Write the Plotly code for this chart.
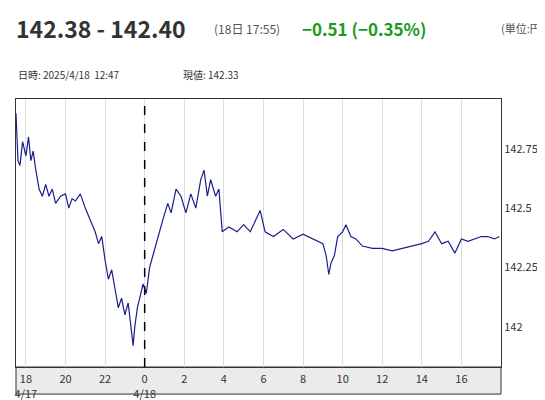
import plotly.graph_objects as go

times = ["2025-04-17 17:30","2025-04-17 17:36","2025-04-17 17:42","2025-04-17 17:50","2025-04-17 18:00","2025-04-17 18:08","2025-04-17 18:15","2025-04-17 18:22","2025-04-17 18:30","2025-04-17 18:40","2025-04-17 18:50","2025-04-17 19:00","2025-04-17 19:10","2025-04-17 19:20","2025-04-17 19:30","2025-04-17 19:45","2025-04-17 20:00","2025-04-17 20:10","2025-04-17 20:20","2025-04-17 20:30","2025-04-17 20:45","2025-04-17 21:00","2025-04-17 21:15","2025-04-17 21:30","2025-04-17 21:40","2025-04-17 21:50","2025-04-17 22:00","2025-04-17 22:10","2025-04-17 22:20","2025-04-17 22:30","2025-04-17 22:40","2025-04-17 22:50","2025-04-17 23:00","2025-04-17 23:10","2025-04-17 23:18","2025-04-17 23:25","2025-04-17 23:30","2025-04-17 23:38","2025-04-17 23:45","2025-04-17 23:55","2025-04-18 00:05","2025-04-18 00:15","2025-04-18 00:25","2025-04-18 00:40","2025-04-18 00:55","2025-04-18 01:10","2025-04-18 01:20","2025-04-18 01:35","2025-04-18 01:50","2025-04-18 02:05","2025-04-18 02:20","2025-04-18 02:35","2025-04-18 02:50","2025-04-18 03:00","2025-04-18 03:10","2025-04-18 03:20","2025-04-18 03:35","2025-04-18 03:45","2025-04-18 03:55","2025-04-18 04:15","2025-04-18 04:40","2025-04-18 05:00","2025-04-18 05:20","2025-04-18 05:40","2025-04-18 05:50","2025-04-18 06:05","2025-04-18 06:30","2025-04-18 07:00","2025-04-18 07:30","2025-04-18 08:00","2025-04-18 08:30","2025-04-18 09:00","2025-04-18 09:10","2025-04-18 09:18","2025-04-18 09:25","2025-04-18 09:35","2025-04-18 09:45","2025-04-18 10:00","2025-04-18 10:10","2025-04-18 10:25","2025-04-18 10:40","2025-04-18 11:00","2025-04-18 11:30","2025-04-18 12:00","2025-04-18 12:30","2025-04-18 13:00","2025-04-18 13:30","2025-04-18 14:00","2025-04-18 14:20","2025-04-18 14:40","2025-04-18 15:00","2025-04-18 15:20","2025-04-18 15:40","2025-04-18 16:00","2025-04-18 16:20","2025-04-18 16:40","2025-04-18 17:00","2025-04-18 17:20","2025-04-18 17:40","2025-04-18 17:55"]
prices = [142.90,142.70,142.68,142.78,142.72,142.80,142.70,142.74,142.66,142.58,142.55,142.60,142.55,142.58,142.52,142.55,142.56,142.50,142.54,142.53,142.56,142.50,142.45,142.40,142.35,142.38,142.28,142.20,142.24,142.15,142.08,142.12,142.05,142.10,142.00,141.92,142.00,142.08,142.12,142.18,142.14,142.25,142.30,142.38,142.45,142.52,142.48,142.58,142.55,142.48,142.56,142.50,142.62,142.66,142.55,142.62,142.55,142.58,142.40,142.42,142.40,142.43,142.40,142.46,142.49,142.40,142.38,142.41,142.37,142.39,142.37,142.35,142.30,142.22,142.27,142.30,142.38,142.40,142.43,142.38,142.37,142.34,142.33,142.33,142.32,142.33,142.34,142.35,142.36,142.40,142.35,142.36,142.31,142.37,142.36,142.37,142.38,142.38,142.37,142.38]
tick_vals = ["2025-04-17 18:00","2025-04-17 20:00","2025-04-17 22:00","2025-04-18 00:00","2025-04-18 02:00","2025-04-18 04:00","2025-04-18 06:00","2025-04-18 08:00","2025-04-18 10:00","2025-04-18 12:00","2025-04-18 14:00","2025-04-18 16:00"]
tick_text = ["18<br>4/17","20","22","0<br>4/18","2","4","6","8","10","12","14","16"]
y_ticks = [142, 142.25, 142.5, 142.75]
y_text = ["142", "142.25", "142.5", "142.75"]

fig = go.Figure(go.Scatter(x=times, y=prices, mode="lines",
                           line=dict(color="#1a1f8c", width=1.2), hoverinfo="skip"))
font = "Noto Sans CJK JP"
fig.update_layout(
    width=545, height=400, margin=dict(l=7, r=52, t=91, b=32),
    paper_bgcolor="white", plot_bgcolor="white", showlegend=False,
    font=dict(family=font, color="#333", size=11),
    xaxis=dict(range=["2025-04-17 17:30","2025-04-18 18:00"], tickvals=tick_vals, ticktext=tick_text,
               showgrid=True, gridcolor="#dddddd", ticks="outside", ticklen=2, tickcolor="rgba(0,0,0,0)",
               tickfont=dict(size=11, color="#333"),
               showline=True, linecolor="#333", mirror=True, zeroline=False),
    yaxis=dict(range=[141.83, 142.96], side="right", tickvals=y_ticks, ticktext=y_text,
               showgrid=False, ticks="", showline=True, linecolor="#333", mirror=True, zeroline=False,
               tickfont=dict(size=11, color="#333")),
)
fig.add_shape(type="rect", xref="paper", yref="paper", x0=0, x1=1, y0=-0.101, y1=0,
              fillcolor="#ebebeb", line=dict(color="#333", width=1), layer="below")
fig.add_shape(type="line", xref="x", yref="paper", x0="2025-04-18 00:00", x1="2025-04-18 00:00",
              y0=0, y1=1, line=dict(color="black", width=1.5, dash="dash"))
ann = [
    (-0.004, 18, "<b>142.38 - 142.40</b>", 23, "#333", "left"),
    (0.405, 18, "(18日 17:55)", 12, "#555", "left"),
    (0.585, 18, "<b>−0.51 (−0.35%)</b>", 17, "#1a9a1a", "left"),
    (1.095, 18, "(単位:円)", 11, "#555", "right"),
    (0.0, 66, "日時: 2025/4/18  12:47", 10, "#333", "left"),
    (0.34, 66, "現値: 142.33", 10, "#333", "left"),
]
for x, py, t, s, c, a in ann:
    fig.add_annotation(xref="paper", yref="paper", x=x, y=(368 - py) / 277, text=t, showarrow=False,
                       xanchor=a, yanchor="middle", font=dict(size=s, color=c, family=font))
fig.write_html("out.html")
